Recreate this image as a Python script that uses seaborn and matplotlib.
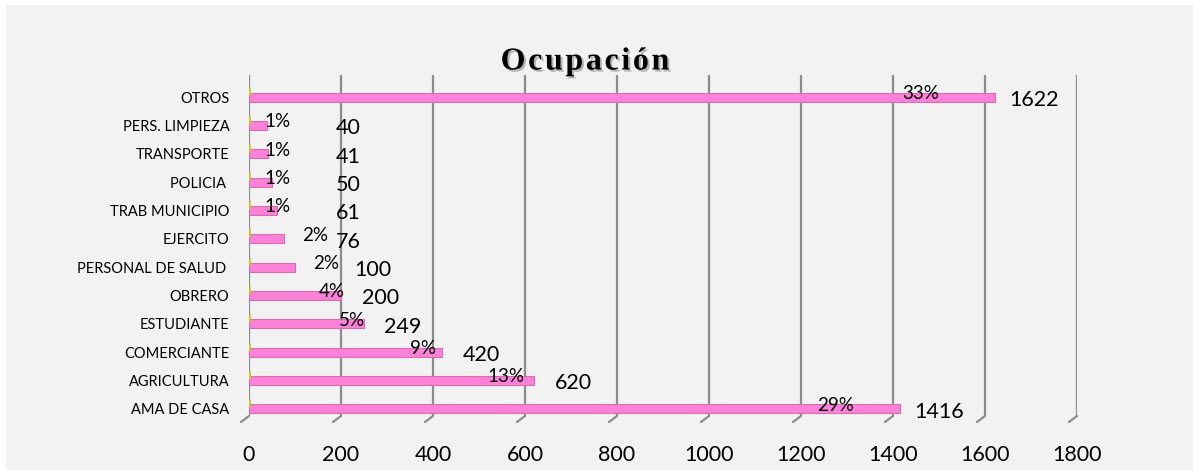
import matplotlib
matplotlib.use("Agg")
import matplotlib.pyplot as plt
import matplotlib.patheffects as pe
from matplotlib.patches import Rectangle
import seaborn as sns
import pandas as pd

ocupaciones = ["OTROS", "PERS. LIMPIEZA", "TRANSPORTE", "POLICIA ", "TRAB MUNICIPIO",
               "EJERCITO", "PERSONAL DE SALUD ", "OBRERO", "ESTUDIANTE", "COMERCIANTE",
               "AGRICULTURA", "AMA DE CASA"]
cantidades = [1622, 40, 41, 50, 61, 76, 100, 200, 249, 420, 620, 1416]
porcentajes = [33, 1, 1, 1, 1, 2, 2, 4, 5, 9, 13, 29]
x_ticks = [0, 200, 400, 600, 800, 1000, 1200, 1400, 1600, 1800]
titulo = "Ocupación"

plt.rcParams["font.family"] = ["Lato", "DejaVu Sans"]

df = pd.DataFrame({"ocupacion": ocupaciones, "cantidad": cantidades,
                   "pct": [p / 100 for p in porcentajes]})

W, H = 1193, 470
fig = plt.figure(figsize=(W / 100, H / 100), dpi=100)
fig.patch.set_facecolor("white")
fig.patches.append(Rectangle((6 / W, 0), 1, 1 - 5 / H, transform=fig.transFigure,
                             facecolor="#F2F2F2", edgecolor="none", zorder=-10))

ax = fig.add_axes([249 / W, 1 - 416 / H, (1077 - 249) / W, (416 - 75) / H])
ax.set_facecolor("none")

sns.barplot(data=df, x="cantidad", y="ocupacion", orient="h", color="#FF80D9",
            width=0.32, edgecolor="#D070B0", linewidth=0.8, saturation=1,
            ax=ax, zorder=3)

# tiny percentage series at the base (yellow slivers)
ax.barh([i - 0.2 for i in range(len(ocupaciones))], df["pct"], height=0.28,
        color="#D8D840", edgecolor="#C8C820", linewidth=2.0, zorder=4)

ax.set_xlim(0, 1800)
ax.set_ylim(11.25, -0.78)
ax.set_xticks(x_ticks)
ax.set_xticklabels([str(t) for t in x_ticks], fontsize=15.5)
ax.set_xlabel("")
ax.set_ylabel("")
ax.tick_params(axis="x", length=0, pad=21)
ax.tick_params(axis="y", length=0, pad=14, labelsize=10.5)
for s in ax.spines.values():
    s.set_visible(False)

for t in x_ticks:
    ax.axvline(t, color="#8C8C8C", lw=1.6, zorder=1)
    ax.annotate("", xy=(t, 0), xycoords=("data", "axes fraction"),
                xytext=(-8, -6), textcoords="offset pixels",
                arrowprops=dict(arrowstyle="-", color="#8C8C8C", lw=1.6,
                                shrinkA=0, shrinkB=0))

for i, (v, p) in enumerate(zip(cantidades, porcentajes)):
    vx = v + 85 if v > 150 else max(215, 2.7 * v)
    ax.text(vx, i + 0.1, str(v), ha="center", va="center",
            fontsize=15.5, color="black", zorder=6)
    px = max(0.9 * v, 62) if v < 70 or v > 180 else v + 67
    ax.text(px, i - 0.13, f"{p}%",
            ha="center", va="center", fontsize=13.5, color="black", zorder=6)

fig.text(585 / W, 1 - 62 / H, "O c u p a c i ó n".replace(" ", "\u200a"),
         ha="center", va="center", fontsize=23, fontweight="bold",
         family=["Liberation Serif", "DejaVu Serif"],
         path_effects=[pe.withSimplePatchShadow(offset=(1.5, -1.5),
                                                shadow_rgbFace="#777777", alpha=0.5)])

fig.savefig("out.png", dpi=100, facecolor=fig.get_facecolor())
